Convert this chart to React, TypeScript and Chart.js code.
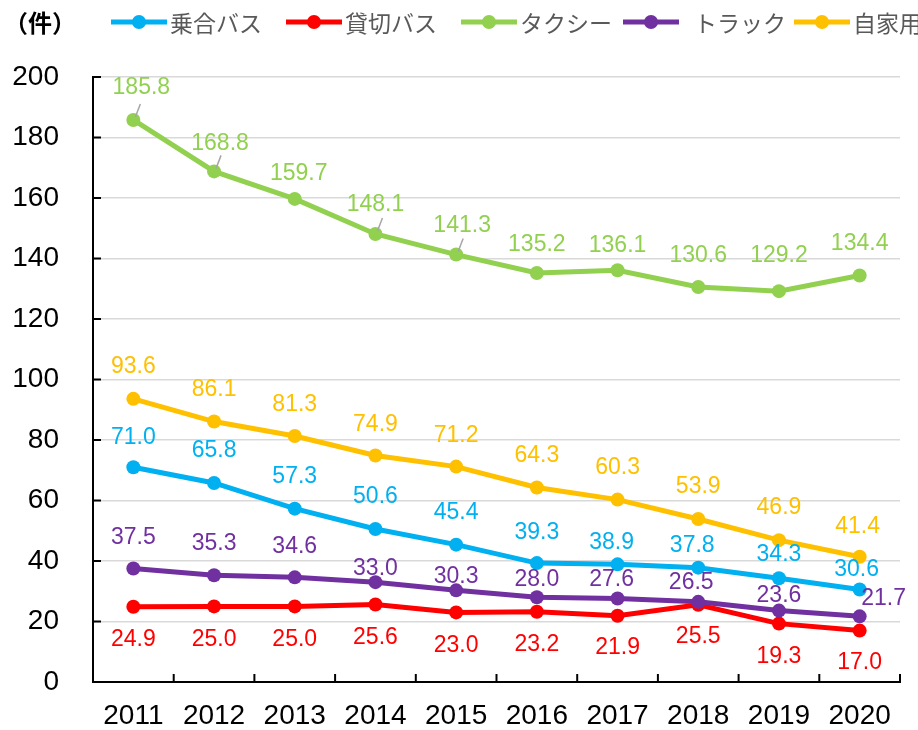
import React, { useEffect, useRef } from "react";
import { Chart, registerables } from "chart.js";

Chart.register(...registerables);

const years = ["2011", "2012", "2013", "2014", "2015", "2016", "2017", "2018", "2019", "2020"];
const noriaiBus = [71.0, 65.8, 57.3, 50.6, 45.4, 39.3, 38.9, 37.8, 34.3, 30.6];
const kashikiriBus = [24.9, 25.0, 25.0, 25.6, 23.0, 23.2, 21.9, 25.5, 19.3, 17.0];
const taxi = [185.8, 168.8, 159.7, 148.1, 141.3, 135.2, 136.1, 130.6, 129.2, 134.4];
const truck = [37.5, 35.3, 34.6, 33.0, 30.3, 28.0, 27.6, 26.5, 23.6, 21.7];
const jikayou = [93.6, 86.1, 81.3, 74.9, 71.2, 64.3, 60.3, 53.9, 46.9, 41.4];
const yTicks = [0, 20, 40, 60, 80, 100, 120, 140, 160, 180, 200];

const seriesNames = ["乗合バス", "貸切バス", "タクシー", "トラック", "自家用"];
const seriesColors = ["#00B0F0", "#FF0000", "#92D050", "#7030A0", "#FFC000"];

// legend layout (style only)
const legendX = [111, 286, 461, 623, 794];
const legendTextGap = [59, 59, 59, 71, 59];

// label offsets (style only)
const labelDy: number[][] = [
  [-30, -32, -32, -32, -32, -30, -22, -22, -24, -20],
  [33, 33, 33, 33, 33, 33, 32, 32, 33, 32],
  [-32, -28, -25, -29, -29, -28, -25, -31, -36, -32],
  [-31, -32, -31, -14, -14, -18, -19, -19, -15, -18],
  [-32, -32, -31, -31, -31, -32, -32, -32, -32, -30],
];
const labelDx: number[][] = [
  [0, 0, 0, 0, 0, 0, -6, -6, 0, -3],
  [0, 0, 0, 0, 0, 0, 0, 0, 0, 0],
  [8, 6, 4, 0, 6, 0, 0, 0, 0, 0],
  [0, 0, 0, 0, 0, 0, -6, -7, 0, 24],
  [0, 0, 0, 0, 0, 0, 0, 0, 0, -2],
];
const leaderIdx = [0, 1, 3, 4];

const FONT = '"Liberation Sans", Arial, "Noto Sans CJK JP", sans-serif';
const CJK = '"Noto Sans CJK JP", "Liberation Sans", sans-serif';

const labelsPlugin = {
  id: "valueLabels",
  afterDatasetsDraw(chart: any) {
    const ctx = chart.ctx;
    ctx.save();
    const tm = chart.getDatasetMeta(2);
    ctx.strokeStyle = "#A6A6A6";
    ctx.lineWidth = 1.5;
    leaderIdx.forEach((i) => {
      const p = tm.data[i];
      ctx.beginPath();
      ctx.moveTo(p.x + 2, p.y - 3);
      ctx.lineTo(p.x + 7, p.y - 16);
      ctx.stroke();
    });
    ctx.font = `23px ${FONT}`;
    ctx.textAlign = "center";
    ctx.textBaseline = "middle";
    chart.data.datasets.forEach((ds: any, di: number) => {
      const meta = chart.getDatasetMeta(di);
      ctx.fillStyle = seriesColors[di];
      meta.data.forEach((p: any, i: number) => {
        const v = ds.data[i] as number;
        ctx.fillText(v.toFixed(1), p.x + labelDx[di][i], p.y + labelDy[di][i]);
      });
    });
    ctx.restore();
  },
};

const axisPlugin = {
  id: "innerTicks",
  afterDraw(chart: any) {
    const ctx = chart.ctx;
    const { left, bottom } = chart.chartArea;
    const ys = chart.scales.y;
    const xs = chart.scales.x;
    ctx.save();
    ctx.strokeStyle = "#000";
    ctx.lineWidth = 2;
    yTicks.forEach((t) => {
      const y = ys.getPixelForValue(t);
      ctx.beginPath();
      ctx.moveTo(left, y);
      ctx.lineTo(left + 8, y);
      ctx.stroke();
    });
    const n = years.length;
    const w = (xs.right - xs.left) / n;
    for (let i = 1; i <= n; i++) {
      const x = xs.left + w * i;
      ctx.beginPath();
      ctx.moveTo(x, bottom);
      ctx.lineTo(x, bottom - 8);
      ctx.stroke();
    }
    // legend
    ctx.fillStyle = "#000";
    ctx.font = `bold 24px ${CJK}`;
    ctx.textAlign = "left";
    ctx.textBaseline = "middle";
    ctx.fillText("（件）", 4, 23);
    const yL = 22;
    ctx.font = `23px ${CJK}`;
    seriesNames.forEach((name, i) => {
      const x = legendX[i];
      ctx.strokeStyle = seriesColors[i];
      ctx.lineWidth = 5;
      ctx.beginPath();
      ctx.moveTo(x, yL);
      ctx.lineTo(x + 56, yL);
      ctx.stroke();
      ctx.fillStyle = seriesColors[i];
      ctx.beginPath();
      ctx.arc(x + 28, yL, 7, 0, Math.PI * 2);
      ctx.fill();
      ctx.fillStyle = "#595959";
      ctx.fillText(name, x + legendTextGap[i], yL + 1);
    });
    ctx.restore();
  },
};

export default function App() {
  const ref = useRef<HTMLCanvasElement>(null);
  useEffect(() => {
    document.body.style.margin = "0";
    const allSeries = [noriaiBus, kashikiriBus, taxi, truck, jikayou];
    const chart = new Chart(ref.current!, {
      type: "line",
      data: {
        labels: years,
        datasets: allSeries.map((d, i) => ({
          label: seriesNames[i],
          data: d,
          borderColor: seriesColors[i],
          backgroundColor: seriesColors[i],
          pointBackgroundColor: seriesColors[i],
          pointBorderWidth: 0,
          pointRadius: 7,
          borderWidth: 5,
          tension: 0,
          order: 5 - i,
        })),
      },
      options: {
        responsive: false,
        animation: false,
        layout: { padding: { top: 77, right: 18, left: 0, bottom: 0 } },
        plugins: { legend: { display: false }, tooltip: { enabled: false } },
        scales: {
          x: {
            offset: true,
            grid: { display: false, drawTicks: false },
            border: { display: true, color: "#000", width: 2 },
            ticks: { color: "#000", font: { size: 28, family: FONT, lineHeight: 1 }, padding: 20, maxRotation: 0 },
            afterFit: (s: any) => { s.height = 48; },
          },
          y: {
            min: 0,
            max: 200,
            ticks: { stepSize: 20, color: "#000", font: { size: 28, family: FONT, lineHeight: 1 }, padding: 34 },
            grid: { color: "#D9D9D9", lineWidth: 1.5, drawTicks: false },
            border: { display: true, color: "#000", width: 2 },
            afterFit: (s: any) => { s.width = 93; },
          },
        },
      },
      plugins: [labelsPlugin, axisPlugin],
    });
    return () => chart.destroy();
  }, []);
  return (
    <div style={{ width: 918, height: 730 }}>
      <canvas ref={ref} width={918} height={730} />
    </div>
  );
}
